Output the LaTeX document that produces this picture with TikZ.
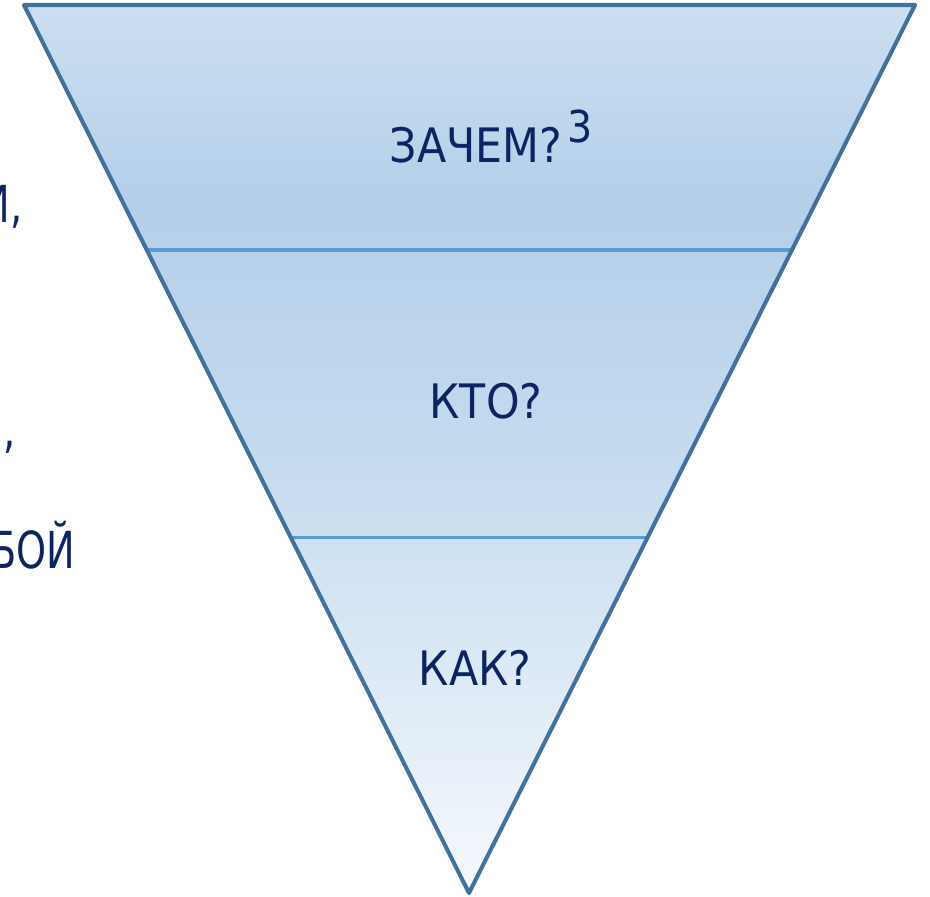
\documentclass[tikz,border=0pt]{standalone}
\usepackage{fontspec}
\setmainfont{DejaVu Sans}[FakeStretch=0.9]
\newfontfamily\sidefont{DejaVu Sans}[FakeStretch=0.75]
\usepackage{xcolor}
\usetikzlibrary{calc,positioning}

\definecolor{funnelline}{RGB}{65,113,156}
\definecolor{bandline}{RGB}{91,155,213}
\definecolor{labeltext}{RGB}{12,36,97}
\definecolor{ftop}{RGB}{204,223,241}
\definecolor{fmid}{RGB}{180,207,234}
\definecolor{flow}{RGB}{196,218,239}
\definecolor{fbot}{RGB}{245,249,253}

\pgfdeclareverticalshading{funnelfill}{100bp}{color(0bp)=(fbot); color(25bp)=(fbot); color(50bp)=(flow); color(64bp)=(fmid); color(75bp)=(ftop); color(100bp)=(ftop)}

\begin{document}
\begin{tikzpicture}[
        x=0.01cm, y=-0.01cm,
        qlabel/.style={inner sep=0pt, anchor=base, text=labeltext, font=\fontsize{13.5}{16}\selectfont},
        qnote/.style={inner sep=0pt, anchor=base west, text=labeltext, font=\fontsize{12.5}{15}\selectfont},
        sidetext/.style={inner sep=0pt, anchor=base east, text=labeltext, font=\sidefont\fontsize{14.5}{18}\selectfont},
        band/.style={draw=bandline, line width=0.95pt},
        funnel/.style={draw=funnelline, line width=1.15pt, line join=round}]

    \useasboundingbox (0,0) rectangle (930,897);
    \clip (0,0) rectangle (930,897);

    \coordinate (tl) at (24,5);
    \coordinate (tr) at (915,5);
    \coordinate (apex) at (469,893);

    \shade[shading=funnelfill] (tl) -- (tr) -- (apex) -- cycle;
    \draw[band] ($(tl)!0.276!(apex)$) -- ($(tr)!0.276!(apex)$);
    \draw[band] ($(tl)!0.6!(apex)$) -- ($(tr)!0.6!(apex)$);
    \draw[funnel] (tl) -- (tr) -- (apex) -- cycle;

    \node[qlabel] (zachem) at (476,162) {ЗАЧЕМ?};
    \node[qnote] (zachemnote) at (567,142) {3};
    \node[qlabel] (kto) at (486,418) {КТО?};
    \node[qlabel] (kak) at (475,685) {КАК?};

    \node[sidetext] (lineone) at (23,222) {И,};
    \node[sidetext] (linetwo) at (16,447) {,};
    \node[sidetext] (linethree) at (76,568) {БОЙ};
\end{tikzpicture}
\end{document}
